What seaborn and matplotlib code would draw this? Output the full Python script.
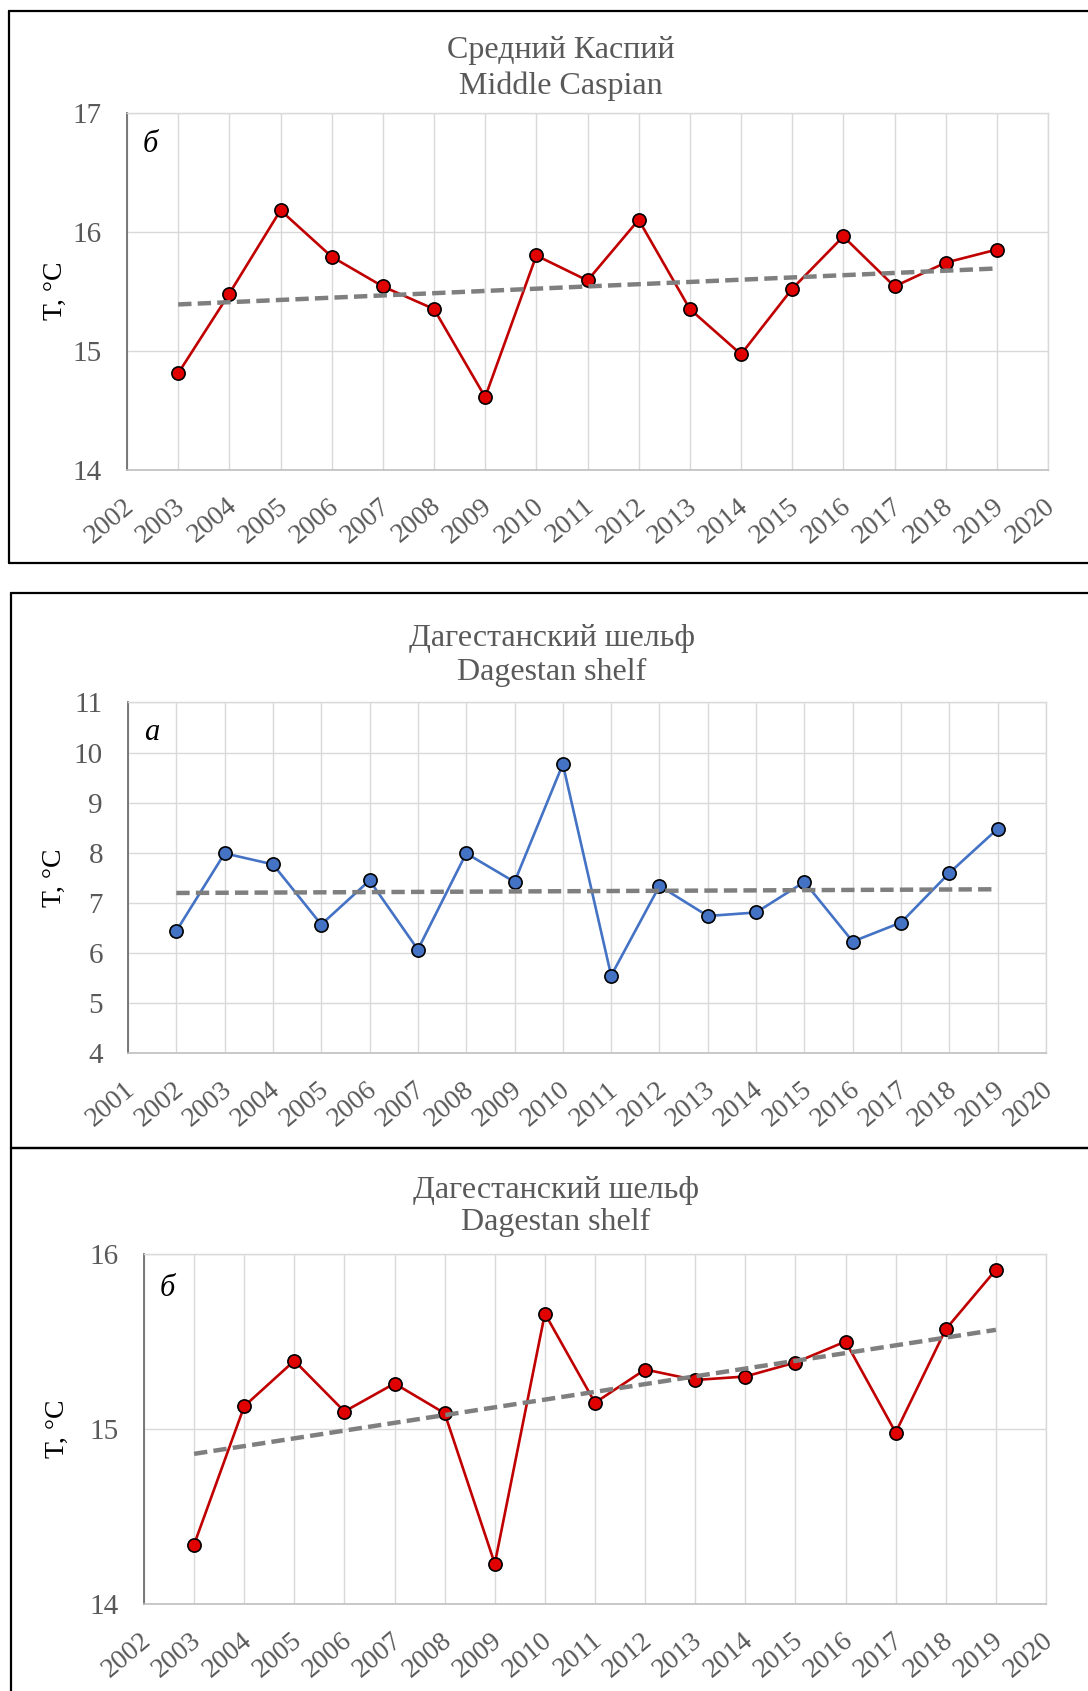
import numpy as np
import pandas as pd
import matplotlib
matplotlib.use("Agg")
import matplotlib.pyplot as plt
import seaborn as sns
from matplotlib.ticker import MultipleLocator
from matplotlib.transforms import ScaledTranslation
from matplotlib.lines import Line2D

# ---------------- data ----------------
years_mc = list(range(2003, 2020))
temp_mc = [14.81, 15.48, 16.18, 15.79, 15.54, 15.35, 14.61, 15.80, 15.59,
           16.10, 15.35, 14.97, 15.52, 15.96, 15.54, 15.74, 15.85]

years_da = list(range(2002, 2020))
temp_da = [6.44, 7.99, 7.77, 6.57, 7.45, 6.07, 7.99, 7.42, 9.77, 5.55,
           7.34, 6.74, 6.81, 7.42, 6.23, 6.61, 7.60, 8.48]

years_db = list(range(2003, 2020))
temp_db = [14.34, 15.13, 15.39, 15.10, 15.26, 15.09, 14.23, 15.66, 15.15,
           15.34, 15.28, 15.30, 15.38, 15.50, 14.98, 15.57, 15.91]

title_mc = ["Средний Каспий", "Middle Caspian"]
title_d = ["Дагестанский шельф", "Dagestan shelf"]
ylabel = "T, °C"

# ---------------- style ----------------
sns.set_theme(style="white")
plt.rcParams["font.family"] = ["Liberation Serif", "DejaVu Serif"]

W, H = 1088, 1691
fig = plt.figure(figsize=(W / 100, H / 100), dpi=100)
fig.patch.set_facecolor("white")

GRAY_TXT = "#595959"
GRID = "#D9D9D9"


def fx(x):
    return x / W


def fy(y):
    return 1 - y / H


def make_ax(x0, y0, x1, y1):
    return fig.add_axes([fx(x0), fy(y1), (x1 - x0) / W, (y1 - y0) / H])


def style_ax(ax, xlim, ylim, ymaj):
    ax.set_xlim(*xlim)
    ax.set_ylim(*ylim)
    ax.set_xticks(list(range(xlim[0], xlim[1] + 1)))
    ax.set_xticklabels([str(v) for v in range(xlim[0], xlim[1] + 1)])
    ax.yaxis.set_major_locator(MultipleLocator(ymaj))
    ax.yaxis.set_minor_locator(MultipleLocator(0.5))
    ax.grid(True, which="major", color=GRID, linewidth=1.0, zorder=0)
    ax.set_axisbelow(True)
    for s in ["top", "right"]:
        ax.spines[s].set_color(GRID)
        ax.spines[s].set_linewidth(1.0)
    ax.spines["bottom"].set_color("#BFBFBF")
    ax.spines["bottom"].set_linewidth(1.2)
    ax.spines["left"].set_color("#6E6E6E")
    ax.spines["left"].set_linewidth(1.3)
    ax.tick_params(axis="x", which="both", length=0, pad=24,
                   labelsize=20, labelcolor=GRAY_TXT)
    ax.tick_params(axis="y", which="major", length=4, direction="in",
                   color="#6E6E6E", pad=18, labelsize=21, labelcolor=GRAY_TXT)
    ax.tick_params(axis="y", which="minor", length=5, direction="out",
                   color="#6E6E6E", width=1.2)
    for lab in ax.get_xticklabels():
        lab.set_rotation(40)
        lab.set_ha("right")
        lab.set_va("center")
        lab.set_rotation_mode("anchor")
        lab.set_transform(lab.get_transform() +
                          ScaledTranslation(3 / 72, 0, fig.dpi_scale_trans))
    ax.set_xlabel("")
    ax.set_ylabel(ylabel, fontsize=20, color="black", va="center")


def draw_series(ax, years, temps, line_c, face_c):
    df = pd.DataFrame({"year": years, "T": temps})
    sns.lineplot(data=df, x="year", y="T", ax=ax, color=line_c,
                 linewidth=1.9, marker="o", markersize=9.5,
                 markerfacecolor=face_c, markeredgecolor="black",
                 markeredgewidth=1.2, zorder=4)
    sns.regplot(data=df, x="year", y="T", ax=ax, scatter=False, ci=None,
                truncate=True,
                line_kws=dict(color="#7F7F7F", linewidth=3.2,
                              linestyle=(0, (3.0, 1.4)), zorder=5))


def titles(lines, xc, baselines):
    for t, yb in zip(lines, baselines):
        fig.text(fx(xc), fy(yb), t, ha="center", va="baseline",
                 fontsize=23, color=GRAY_TXT)


def letter(txt, x, y):
    fig.text(fx(x), fy(y), txt, ha="center", va="center",
             fontsize=22, style="italic", color="black")


def box(x0, y0, x1, y1):
    kw = dict(color="black", linewidth=1.6, transform=fig.transFigure)
    fig.add_artist(Line2D([fx(x0), fx(x1)], [fy(y0), fy(y0)], **kw))
    fig.add_artist(Line2D([fx(x0), fx(x0)], [fy(y0), fy(y1)], **kw))
    fig.add_artist(Line2D([fx(x0), fx(x1)], [fy(y1), fy(y1)], **kw))


# ---------------- panel 1: Middle Caspian ----------------
ax1 = make_ax(127, 112.7, 1048, 469.7)
draw_series(ax1, years_mc, temp_mc, "#C00000", "#E00000")
style_ax(ax1, (2002, 2020), (14, 17), 1)
ax1.yaxis.set_label_coords((55 - 127) / 921, 0.5)
titles(title_mc, 561, [58, 94])
letter("б", 150, 144)
box(9, 11, 1100, 563)

# ---------------- panel 2: Dagestan shelf (a) ----------------
ax2 = make_ax(128, 702.5, 1046, 1053.3)
draw_series(ax2, years_da, temp_da, "#4472C4", "#4472C4")
style_ax(ax2, (2001, 2020), (4, 11), 1)
ax2.yaxis.set_label_coords((54 - 128) / 918, 0.5)
titles(title_d, 552, [646, 680])
letter("а", 152, 733)
box(11, 593, 1100, 1148)

# ---------------- panel 3: Dagestan shelf (б) ----------------
ax3 = make_ax(144, 1254, 1046, 1604)
draw_series(ax3, years_db, temp_db, "#C00000", "#E00000")
style_ax(ax3, (2002, 2020), (14, 16), 1)
ax3.yaxis.set_label_coords((57 - 144) / 902, 0.5)
titles(title_d, 556, [1198, 1230])
letter("б", 167, 1288)
box(11, 1148, 1100, 1720)

fig.savefig("out.png", dpi=100, facecolor="white")
